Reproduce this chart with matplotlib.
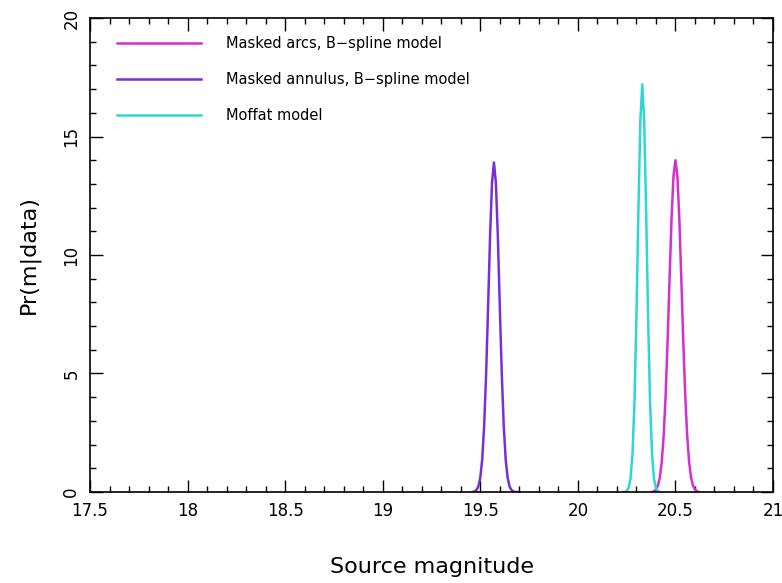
import matplotlib
matplotlib.use("Agg")
import matplotlib.pyplot as plt
from matplotlib.ticker import MultipleLocator

# Pr(m|data) curves, values
mag_annulus = [19.46, 19.47, 19.48, 19.49, 19.50, 19.51, 19.52, 19.53, 19.54, 19.55,
               19.56, 19.57, 19.58, 19.59, 19.60, 19.61, 19.62, 19.63, 19.64, 19.65,
               19.66, 19.67, 19.68, 19.69, 19.70]
pr_annulus = [0.0, 0.02, 0.08, 0.23, 0.61, 1.39, 2.83, 5.01, 7.83, 10.77,
              13.04, 13.9, 13.04, 10.77, 7.83, 5.01, 2.83, 1.39, 0.61, 0.23,
              0.08, 0.02, 0.0, 0.0, 0.0]

mag_moffat = [20.24, 20.25, 20.26, 20.27, 20.28, 20.29, 20.30, 20.31, 20.32, 20.33,
              20.34, 20.35, 20.36, 20.37, 20.38, 20.39, 20.40, 20.41, 20.42]
pr_moffat = [0.0, 0.04, 0.17, 0.57, 1.62, 3.79, 7.35, 11.79, 15.65, 17.2,
             15.65, 11.79, 7.35, 3.79, 1.62, 0.57, 0.17, 0.04, 0.0]

mag_arcs = [20.38, 20.39, 20.40, 20.41, 20.42, 20.43, 20.44, 20.45, 20.46, 20.47,
            20.48, 20.49, 20.50, 20.51, 20.52, 20.53, 20.54, 20.55, 20.56, 20.57,
            20.58, 20.59, 20.60, 20.61, 20.62]
pr_arcs = [0.0, 0.03, 0.11, 0.27, 0.61, 1.28, 2.41, 4.13, 6.41, 9.03,
           11.52, 13.33, 14.0, 13.33, 11.52, 9.03, 6.41, 4.13, 2.41, 1.28,
           0.61, 0.27, 0.11, 0.03, 0.0]

labels = ["Masked arcs, B\u2212spline model",
          "Masked annulus, B\u2212spline model",
          "Moffat model"]
colors = ["#d42fd4", "#7a2ed6", "#2fd6d6"]

x_ticks = [17.5, 18, 18.5, 19, 19.5, 20, 20.5, 21]
x_tick_labels = ["17.5", "18", "18.5", "19", "19.5", "20", "20.5", "21"]
y_ticks = [0, 5, 10, 15, 20]


def main():
    fig = plt.figure(figsize=(7.82, 5.83), dpi=100)
    ax = fig.add_axes([0.1151, 0.1561, 0.8734, 0.8130])

    ax.plot(mag_arcs, pr_arcs, color=colors[0], lw=1.8, label=labels[0])
    ax.plot(mag_annulus, pr_annulus, color=colors[1], lw=1.8, label=labels[1])
    ax.plot(mag_moffat, pr_moffat, color=colors[2], lw=1.8, label=labels[2])

    ax.set_xlim(17.5, 21)
    ax.set_ylim(0, 20)
    ax.set_xticks(x_ticks)
    ax.set_xticklabels(x_tick_labels, fontsize=12)
    ax.set_yticks(y_ticks)
    ax.set_yticklabels([str(t) for t in y_ticks], fontsize=12, rotation=90, va="center")
    ax.xaxis.set_minor_locator(MultipleLocator(0.1))
    ax.yaxis.set_minor_locator(MultipleLocator(1))
    ax.tick_params(which="both", direction="in", top=True, right=True, width=1.0)
    ax.tick_params(which="major", length=9, pad=7)
    ax.tick_params(which="minor", length=4.5)
    for s in ax.spines.values():
        s.set_linewidth(1.2)

    ax.set_xlabel("Source magnitude", fontsize=16, labelpad=27)
    ax.set_ylabel("Pr(m|data)", fontsize=16, labelpad=16)

    ax.legend(loc="upper left", bbox_to_anchor=(0.02, 0.99), frameon=False,
              fontsize=10.5, handlelength=5.8, handletextpad=1.7,
              labelspacing=1.45)

    fig.savefig("out.png", dpi=100)
    plt.close(fig)


if __name__ == "__main__":
    main()
